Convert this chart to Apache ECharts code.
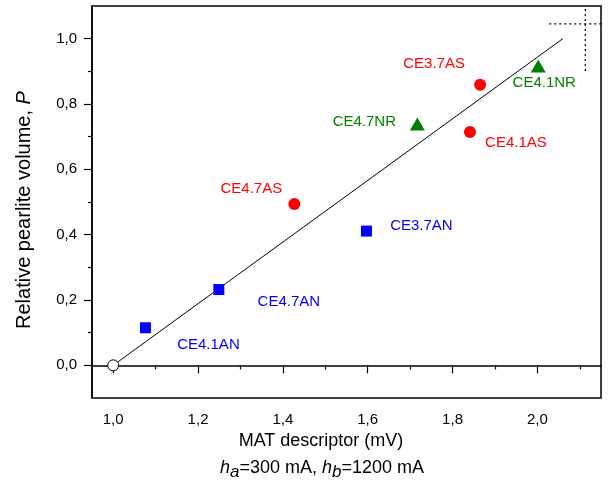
<!DOCTYPE html>
<html>
<head>
<meta charset="utf-8">
<script src="https://cdn.jsdelivr.net/npm/echarts@6/dist/echarts.min.js"></script>
<style>
  html, body { margin: 0; padding: 0; background: #fff; }
  #chart { width: 611px; height: 482px; }
</style>
</head>
<body>
<div id="chart"></div>
<script>
// 数据：各组样品 (MAT descriptor, P)
const anNames = ['CE4.1AN', 'CE4.7AN', 'CE3.7AN']
const anX = [1.076, 1.249, 1.597]
const anY = [0.115, 0.232, 0.411]

const asNames = ['CE4.7AS', 'CE4.1AS', 'CE3.7AS']
const asX = [1.427, 1.841, 1.865]
const asY = [0.494, 0.714, 0.859]

const nrNames = ['CE4.7NR', 'CE4.1NR']
const nrX = [1.717, 2.002]
const nrY = [0.739, 0.916]

const originX = [1.0]
const originY = [0.0]

// 拟合直线
const fitX = [1.0, 2.06]
const fitY = [0.0, 1.0]

// 右上角虚线
const hDotX = [2.028, 2.174]
const hDotY = [1.045, 1.045]
const vDotX = [2.113, 2.113]
const vDotY = [1.091, 0.899]

// 刻度
const xMajorTicks = [1.0, 1.2, 1.4, 1.6, 1.8, 2.0]
const xMinorTicks = [1.1, 1.3, 1.5, 1.7, 1.9, 2.1]
const yMajorTicks = [0.0, 0.2, 0.4, 0.6, 0.8, 1.0]
const yMinorTicks = [0.1, 0.3, 0.5, 0.7, 0.9]

// 标签偏移（像素）
const anOffsets = [[63, 17], [70, 12], [55, -5]]
const asOffsets = [[-43, -15], [46, 11], [-46, -21]]
const nrOffsets = [[-53, -2], [6, 17]]

const FONT = 'Liberation Sans, Arial, sans-serif'
const fmt = v => Number(v).toFixed(1).replace('.', ',')
const pairs = (xs, ys) => xs.map((x, i) => [x, ys[i]])

const labelled = (names, xs, ys, offsets) => xs.map((x, i) => ({
  value: [x, ys[i]],
  name: names[i],
  label: { offset: offsets[i] }
}))

const scatterLabel = color => ({
  show: true,
  position: 'inside',
  formatter: p => p.name,
  color: color,
  opacity: 1,
  fontFamily: FONT,
  fontSize: 15,
  align: 'center',
  verticalAlign: 'middle'
})

const chart = echarts.init(document.getElementById('chart'))

const baseX = {
  type: 'value',
  min: 0.95,
  max: 2.15,
  position: 'bottom',
  splitLine: { show: false }
}
const baseY = {
  type: 'value',
  min: -0.1,
  max: 1.1,
  position: 'left',
  splitLine: { show: false }
}

chart.setOption({
  animation: false,
  backgroundColor: '#fff',
  grid: {
    left: 92,
    top: 6,
    right: 10,
    bottom: 84,
    show: true,
    borderColor: '#000',
    borderWidth: 1.5
  },
  xAxis: [
    {
      ...baseX,
      axisLine: { show: true, lineStyle: { color: '#000', width: 1.5 } },
      axisTick: { show: true, length: 8, customValues: xMajorTicks, lineStyle: { color: '#000', width: 1.2 } },
      axisLabel: {
        customValues: xMajorTicks,
        formatter: fmt,
        color: '#000',
        fontFamily: FONT,
        fontSize: 15,
        margin: 14
      }
    },
    {
      ...baseX,
      axisLine: { show: false },
      axisTick: { show: true, length: 4, customValues: xMinorTicks, lineStyle: { color: '#000', width: 1.2 } },
      axisLabel: { show: false }
    }
  ],
  yAxis: [
    {
      ...baseY,
      axisLine: { show: true, lineStyle: { color: '#000', width: 1.5 } },
      axisTick: { show: true, length: 8, customValues: yMajorTicks, lineStyle: { color: '#000', width: 1.2 } },
      axisLabel: {
        customValues: yMajorTicks,
        formatter: fmt,
        color: '#000',
        fontFamily: FONT,
        fontSize: 15,
        margin: 15
      }
    },
    {
      ...baseY,
      axisLine: { show: false },
      axisTick: { show: true, length: 4, customValues: yMinorTicks, lineStyle: { color: '#000', width: 1.2 } },
      axisLabel: { show: false }
    }
  ],
  series: [
    {
      type: 'line',
      data: pairs(fitX, fitY),
      symbol: 'none',
      lineStyle: { color: '#000', width: 1 },
      z: 1
    },
    {
      type: 'line',
      data: pairs(hDotX, hDotY),
      symbol: 'none',
      clip: false,
      lineStyle: { color: '#000', width: 1.2, type: [2, 3] },
      z: 1
    },
    {
      type: 'line',
      data: pairs(vDotX, vDotY),
      symbol: 'none',
      clip: false,
      lineStyle: { color: '#000', width: 1.2, type: [2, 3] },
      z: 1
    },
    {
      type: 'scatter',
      data: pairs(originX, originY),
      symbol: 'circle',
      symbolSize: 11,
      itemStyle: { color: '#fff', borderColor: '#000', borderWidth: 1, opacity: 1 },
      z: 3
    },
    {
      type: 'scatter',
      data: labelled(anNames, anX, anY, anOffsets),
      symbol: 'rect',
      symbolSize: 11,
      itemStyle: { color: '#0000ff', opacity: 1 },
      label: scatterLabel('#0000ff'),
      z: 3
    },
    {
      type: 'scatter',
      data: labelled(asNames, asX, asY, asOffsets),
      symbol: 'circle',
      symbolSize: 12,
      itemStyle: { color: '#ff0000', opacity: 1 },
      label: scatterLabel('#ff0000'),
      z: 3
    },
    {
      type: 'scatter',
      data: labelled(nrNames, nrX, nrY, nrOffsets),
      symbol: 'triangle',
      symbolSize: [15, 13],
      itemStyle: { color: '#008000', opacity: 1 },
      label: scatterLabel('#008000'),
      z: 3
    }
  ],
  graphic: [
    {
      type: 'text',
      x: 24,
      y: 210,
      rotation: Math.PI / 2,
      style: {
        text: 'Relative pearlite volume, {p|P}',
        fontFamily: FONT,
        fontSize: 20,
        fill: '#000',
        align: 'center',
        verticalAlign: 'middle',
        rich: {
          p: { fontFamily: FONT, fontSize: 20, fontStyle: 'italic', fill: '#000' }
        }
      }
    },
    {
      type: 'text',
      x: 321,
      y: 441,
      style: {
        text: 'MAT descriptor (mV)',
        fontFamily: FONT,
        fontSize: 18,
        fill: '#000',
        align: 'center',
        verticalAlign: 'middle'
      }
    },
    {
      type: 'text',
      x: 322,
      y: 468,
      style: {
        text: '{i|h}{s|a}=300 mA, {i|h}{s|b}=1200 mA',
        fontFamily: FONT,
        fontSize: 18,
        fill: '#000',
        align: 'center',
        verticalAlign: 'middle',
        rich: {
          i: { fontFamily: FONT, fontSize: 18, fontStyle: 'italic', fill: '#000' },
          s: { fontFamily: FONT, fontSize: 17, fontStyle: 'italic', fill: '#000', padding: [9, 0, 0, 0] }
        }
      }
    }
  ]
})
</script>
</body>
</html>
